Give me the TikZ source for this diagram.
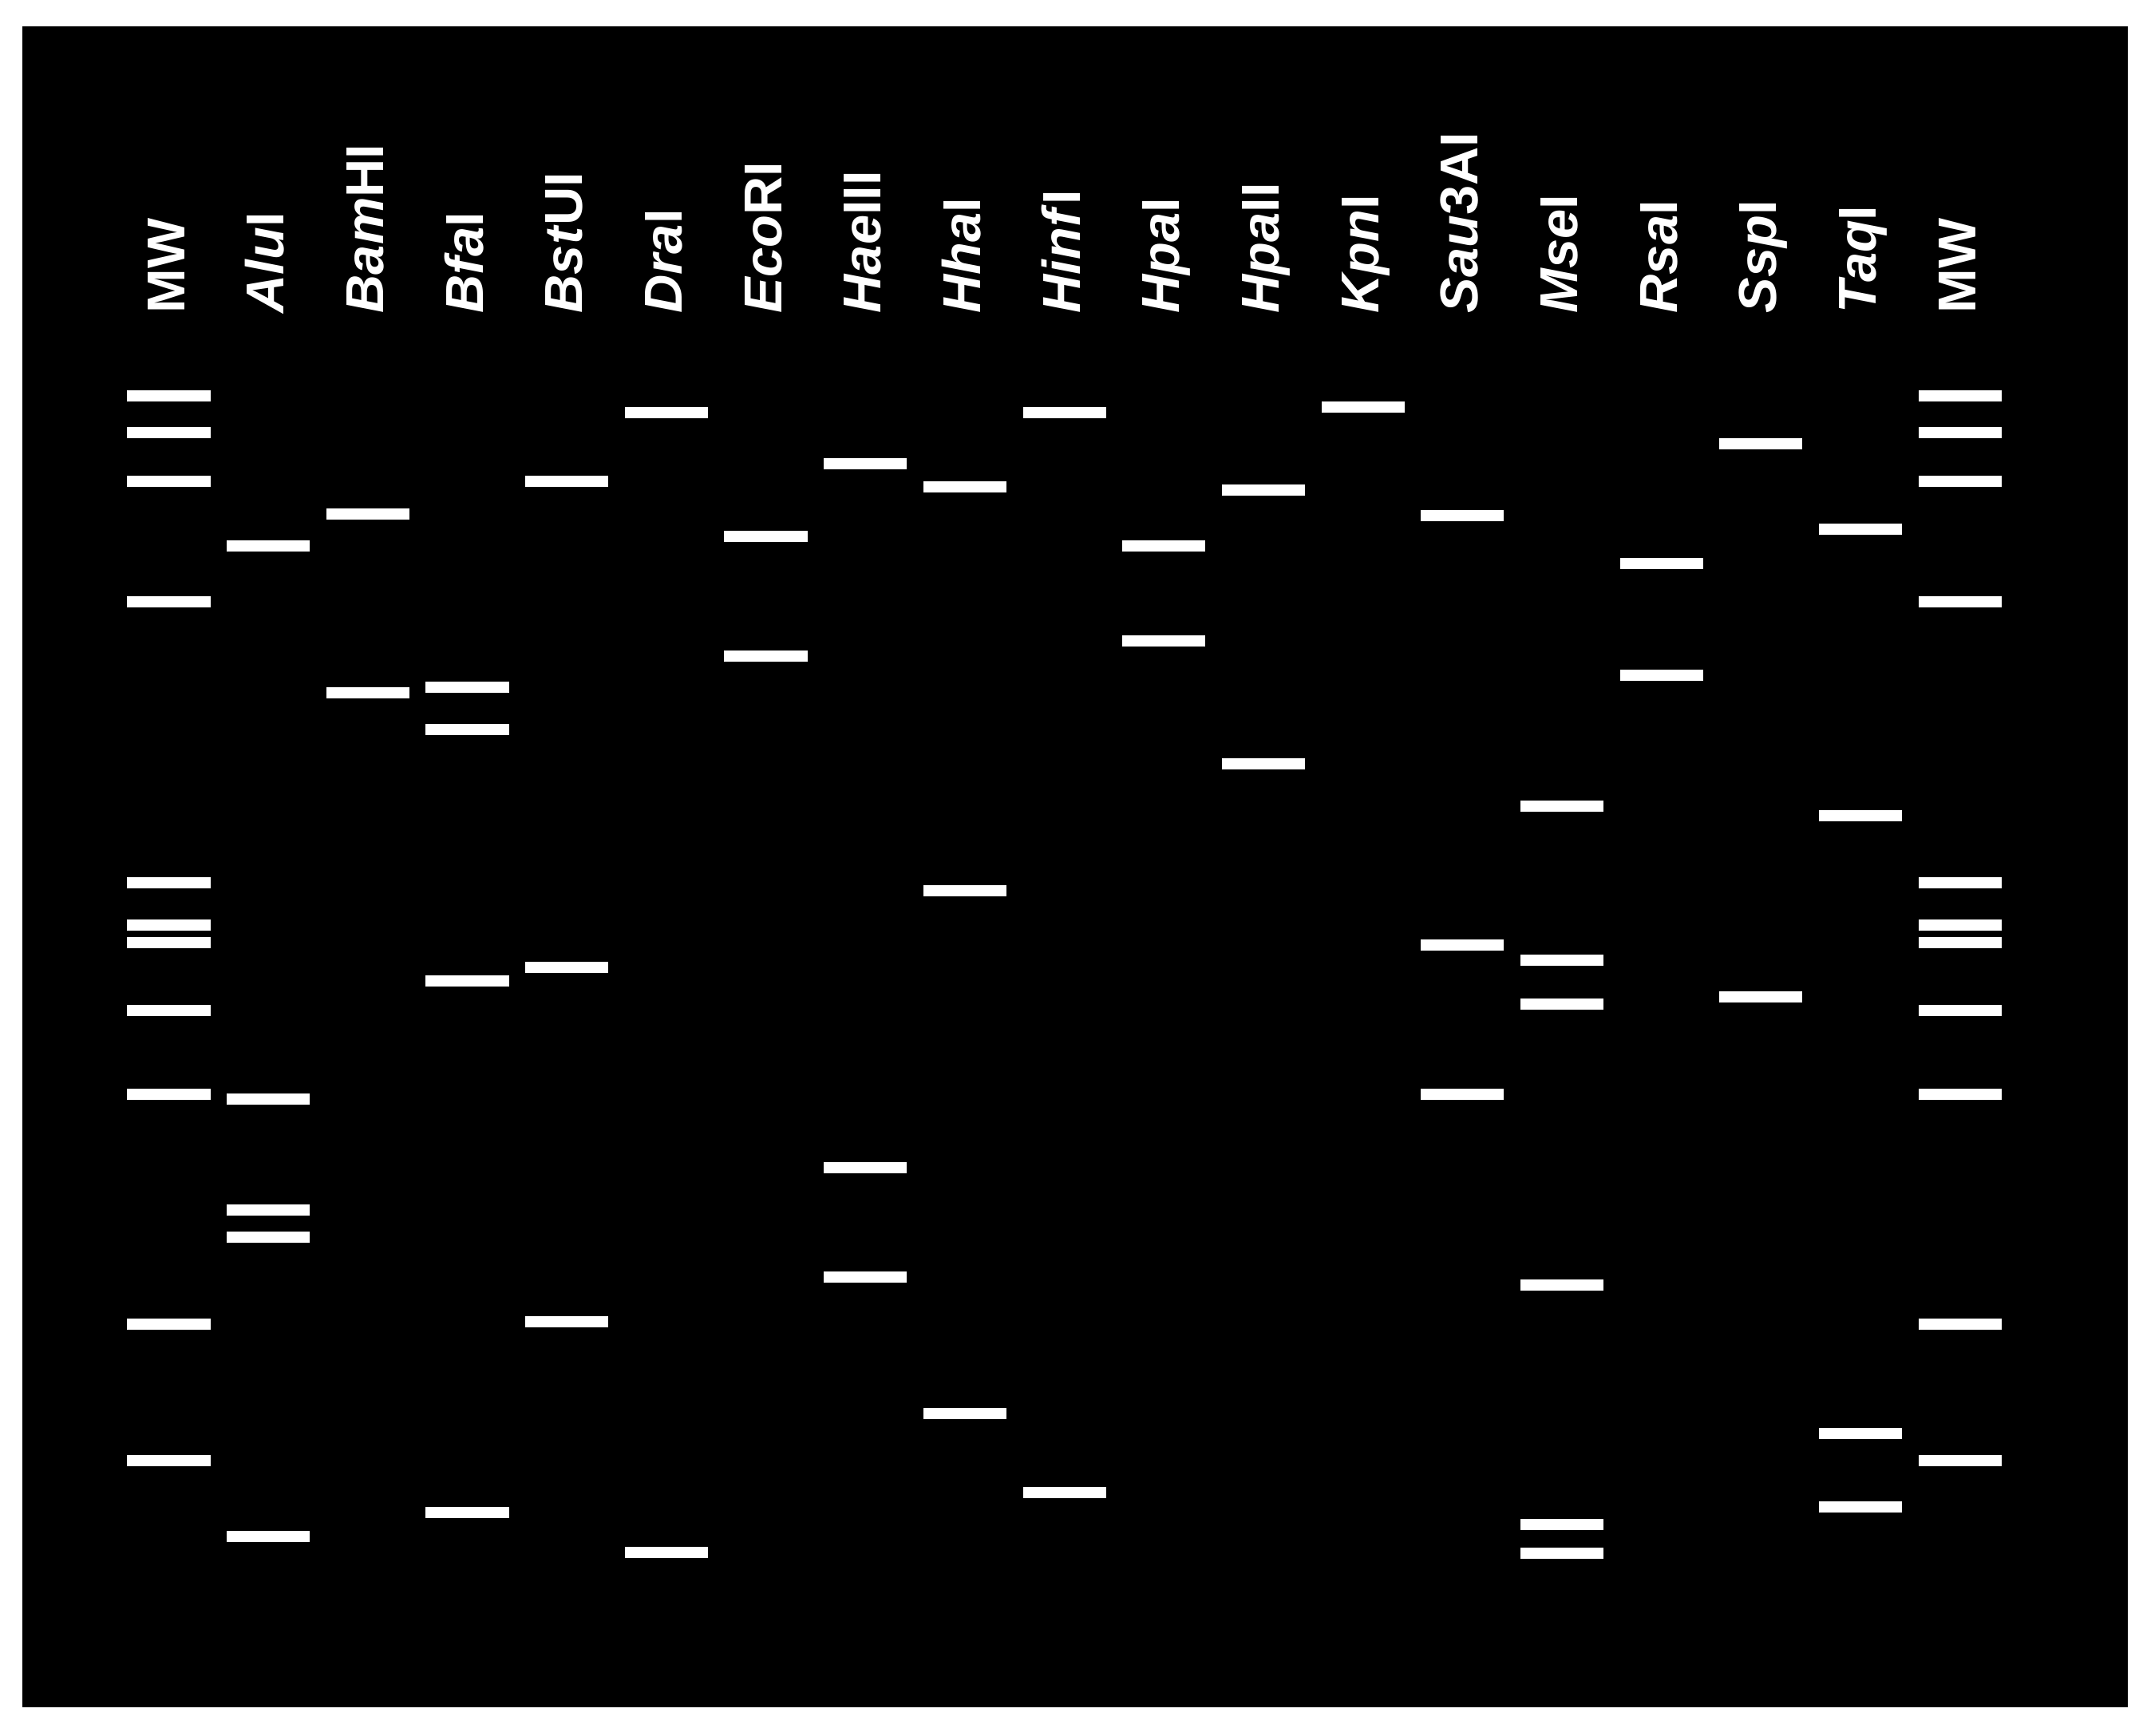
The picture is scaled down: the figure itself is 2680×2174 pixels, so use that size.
\documentclass[tikz,border=0pt]{standalone}
\usepackage{fontspec}
\setmainfont{Liberation Sans}
\begin{document}
\begin{tikzpicture}[x=0.01cm,y=-0.01cm,
  band/.style={rectangle, fill=white, draw=none, inner sep=0pt,
    minimum width=1.04cm, minimum height=0.14cm},
  lanelabel/.style={text=white, font=\fontsize{19}{20}\selectfont\bfseries,
    rotate=90, anchor=base west, inner sep=0pt},
  gelbox/.style={rectangle, fill=black, draw=none, inner sep=0pt,
    minimum width=26.37cm, minimum height=21.05cm, anchor=north west}]
\useasboundingbox (0,0) rectangle (2680,2174);
\fill[white] (0,0) rectangle (2680,2174);
\node[gelbox] (gel) at (27,32) {};
% lane labels
\foreach \lbl [count=\i from 0] in {MW,
  \textit{Alu}I, \textit{Bam}HI, \textit{Bfa}I, \textit{Bst}UI,
  \textit{Dra}I, \textit{Eco}RI, \textit{Hae}III, \textit{Hha}I,
  \textit{Hinf}I, \textit{Hpa}I, \textit{Hpa}II, \textit{Kpn}I,
  \textit{Sau}3AI, \textit{Mse}I, \textit{Rsa}I, \textit{Ssp}I,
  \textit{Taq}I, MW}
  \node[lanelabel] (lab\i) at ({231+124.67*\i},393) {\lbl};
% bands
\foreach \i/\ys in {
  0/{496,542,603,754,1106,1159,1181,1266,1371,1659,1830},
  1/{684,1377,1516,1550,1925},
  2/{644,868},
  3/{861,914,1229,1895},
  4/{603,1212,1656},
  5/{517,1945},
  6/{672,822},
  7/{581,1463,1600},
  8/{610,1116,1771},
  9/{517,1870},
  10/{684,803},
  11/{614,957},
  12/{510},
  13/{646,1184,1371},
  14/{1010,1203,1258,1610,1910,1946},
  15/{706,846},
  16/{556,1249},
  17/{663,1022,1796,1888},
  18/{496,542,603,754,1106,1159,1181,1266,1371,1659,1830}}
{
  \foreach \y [count=\j] in \ys
    \node[band] (b\i-\j) at ({211.5+124.67*\i},\y) {};
}
\end{tikzpicture}
\end{document}
